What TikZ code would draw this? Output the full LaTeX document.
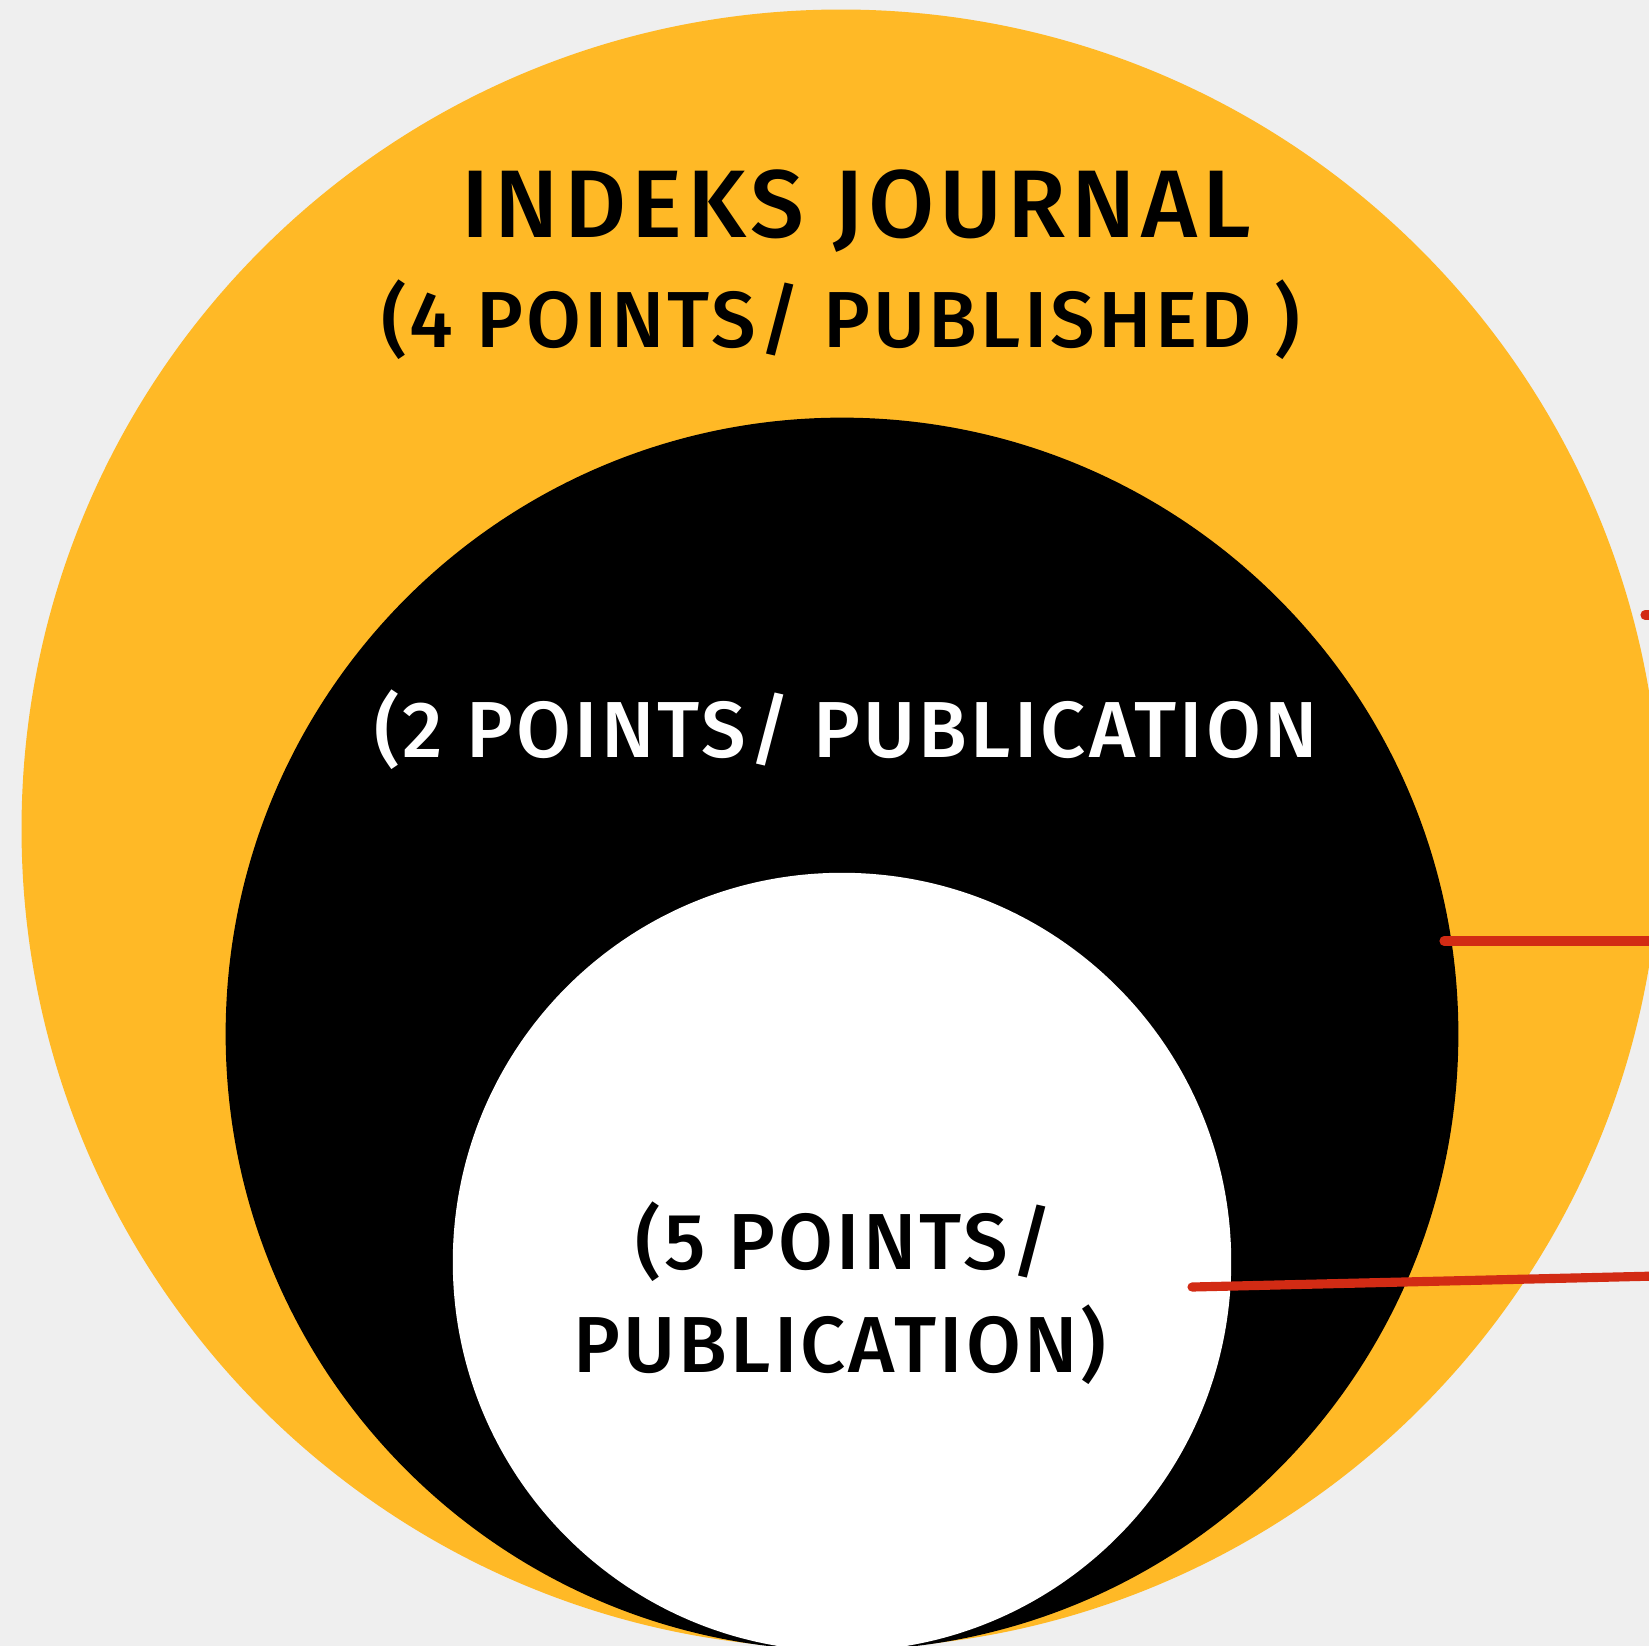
\documentclass[tikz,border=0pt]{standalone}
\usepackage{fontspec}
\setmainfont{Fira Sans}[UprightFont=* Medium, LetterSpace=4]
\usetikzlibrary{positioning}
\definecolor{ringgold}{RGB}{255, 185, 38}
\definecolor{ringred}{RGB}{210, 43, 20}
\definecolor{paper}{RGB}{239, 239, 239}
\tikzset{
    ring/.style={circle, inner sep=0pt, outer sep=0pt},
    goldring/.style={ring, fill=ringgold, minimum size=16.38cm},
    blackring/.style={ring, fill=black, minimum size=12.32cm},
    whitering/.style={ring, fill=white, minimum size=7.78cm},
    tiertitle/.style={anchor=base, inner sep=0pt, font=\fontsize{27.3}{30}\selectfont\addfontfeatures{LetterSpace=5.3}},
    tiernote/.style={anchor=base, inner sep=0pt, font=\fontsize{22.6}{26}\selectfont},
    pointer/.style={draw=ringred, line width=2.6pt, line cap=round}
}

\begin{document}
\begin{tikzpicture}[x=0.01cm, y=-0.01cm]
    \fill[paper] (0,0) rectangle (1649,1646);
    \useasboundingbox (0,0) rectangle (1649,1646);
    \clip (0,0) rectangle (1649,1646);
    % the three rings
    \node[goldring] (journal) at (841,829) {};
    \node[blackring] (national) at (842,1034) {};
    \node[whitering] (intl) at (842,1262) {};
    % labels
    \node[tiertitle] (journaltitle) at (856,238) {INDEKS JOURNAL};
    \node[tiernote] (journalnote) at (841,348) {(4 POINTS/ PUBLISHED )};
    \node[tiernote, text=white] (nationalnote) at (846,757) {(2 POINTS/ PUBLICATION};
    \node[tiernote] (intlnote) at (844,1269) {(5 POINTS/};
    \node[tiernote] (intlnote2) at (840,1372) {PUBLICATION)};
    % pointers
    \coordinate (p1) at (1645,615);
    \coordinate (p1e) at (1700,615);
    \coordinate (p2) at (1444,941);
    \coordinate (p2e) at (1700,941);
    \coordinate (p3) at (1192,1287);
    \coordinate (p3e) at (1700,1275);
    \draw[pointer] (p1) -- (p1e);
    \draw[pointer] (p2) -- (p2e);
    \draw[pointer] (p3) -- (p3e);
\end{tikzpicture}
\end{document}
